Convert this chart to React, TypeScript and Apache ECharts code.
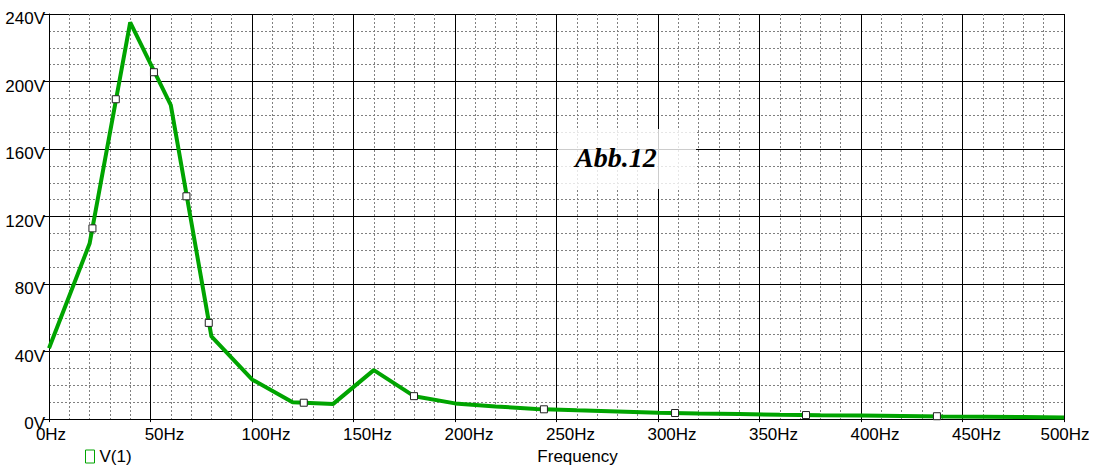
import React, { useEffect, useRef } from "react";
import * as echarts from "echarts";

const freqs = [0, 20, 40, 60, 80, 100, 120, 140, 160, 180, 200, 220, 240, 260, 280, 300, 320, 340, 360, 380, 400, 420, 440, 460, 480, 500];
const volts = [42, 104, 235, 186, 49, 23.5, 10, 9, 29, 13.5, 9.3, 7.5, 6, 5.2, 4.5, 3.8, 3.3, 3, 2.6, 2.3, 2.1, 1.9, 1.6, 1.4, 1.2, 1.0];

const markerFreqs = [21.4, 32.9, 51.7, 67.7, 78.7, 125.5, 179.8, 243.8, 308.4, 372.9, 437.4];
const markerVolts = [113, 189.5, 205.5, 132, 57, 9.7, 13.6, 5.8, 3.6, 2.4, 1.7];

const yTicks = [0, 40, 80, 120, 160, 200, 240];
const xTicks = [0, 50, 100, 150, 200, 250, 300, 350, 400, 450, 500];

const seriesName = "V(1)";
const annotation = "Abb.12";
const xTitle = "Frequency";

const FONT = "'Liberation Sans', Arial, sans-serif";
const GREEN = "#00a400";

export default function App() {
  const ref = useRef<HTMLDivElement>(null);
  useEffect(() => {
    if (!ref.current) return;
    const chart = echarts.init(ref.current, null, { renderer: "svg" });
    const lineData = freqs.map((f, i) => [f, volts[i]]);
    const markerData = markerFreqs.map((f, i) => [f, markerVolts[i]]);
    const labelBase = { fontFamily: FONT, fontSize: 17, color: "#000" };
    chart.setOption({
      animation: false,
      backgroundColor: "#fff",
      grid: { left: 49, right: 31, top: 14, bottom: 45, containLabel: false },
      legend: {
        left: 80,
        top: 443,
        itemWidth: 9,
        itemHeight: 13,
        itemGap: 5,
        textStyle: { fontFamily: FONT, fontSize: 17, color: "#000" },
        data: [
          {
            name: seriesName,
            icon: "path://M0,0H9V13H0Z",
            itemStyle: { color: "transparent", borderColor: GREEN, borderWidth: 1 },
          },
        ],
      },
      xAxis: {
        type: "value",
        min: xTicks[0],
        max: xTicks[xTicks.length - 1],
        interval: 50,
        name: xTitle,
        nameLocation: "middle",
        nameGap: 25,
        nameTextStyle: { fontFamily: FONT, fontSize: 17, color: "#000", padding: [0, 0, 0, 42] },
        axisLine: { show: true, onZero: false, lineStyle: { color: "#000", width: 1 } },
        axisTick: { show: true, length: 3, lineStyle: { color: "#000" } },
        minorTick: { show: true, splitNumber: 5, length: 0 },
        splitLine: { show: true, lineStyle: { color: "#000", width: 1 } },
        minorSplitLine: { show: true, lineStyle: { color: "#808080", width: 1, type: [2, 2] } },
        axisLabel: {
          ...labelBase,
          margin: 7,
          padding: [0, 0, 0, 28],
          formatter: (v: number) =>
            v === 0 ? "{f|" + v + "Hz}" : v === 500 ? "{l|" + v + "Hz}" : "{m|" + v + "Hz}",
          rich: {
            f: { ...labelBase, padding: [0, 24, 0, 0] },
            l: { ...labelBase, padding: [0, 26, 0, 0] },
            m: { ...labelBase },
          },
        },
      },
      yAxis: {
        type: "value",
        min: yTicks[0],
        max: yTicks[yTicks.length - 1],
        interval: 40,
        axisLine: { show: true, lineStyle: { color: "#000", width: 1 } },
        axisTick: { show: true, length: 6, lineStyle: { color: "#000" } },
        minorTick: { show: true, splitNumber: 4, length: 0 },
        splitLine: { show: true, lineStyle: { color: "#000", width: 1 } },
        minorSplitLine: { show: true, lineStyle: { color: "#808080", width: 1, type: [2, 2] } },
        axisLabel: {
          ...labelBase,
          margin: 4,
          verticalAlign: "middle",
          formatter: (v: number) => "{a|" + v + "V}",
          rich: {
            a: { ...labelBase, padding: [9, 0, 0, 0] },
          },
        },
      },
      series: [
        {
          name: seriesName,
          type: "line",
          data: lineData,
          showSymbol: false,
          symbol: "none",
          lineStyle: { color: GREEN, width: 4 },
          itemStyle: { color: GREEN },
          z: 3,
        },
        {
          name: "markers",
          type: "scatter",
          data: markerData,
          symbol: "rect",
          symbolSize: 7,
          itemStyle: { color: "#fff", borderColor: "#222", borderWidth: 1, opacity: 1 },
          z: 4,
        },
      ],
      graphic: [
        {
          type: "rect",
          shape: { x: 558, y: 129, width: 138, height: 60 },
          style: { fill: "rgba(255,255,255,0.8)" },
          z: 10,
        },
        {
          type: "text",
          x: 575,
          y: 157,
          style: {
            text: annotation,
            fontFamily: "'Liberation Serif', 'Times New Roman', serif",
            fontSize: 28,
            fontWeight: "bold",
            fontStyle: "italic",
            fill: "#000",
            verticalAlign: "middle",
          },
          z: 11,
        },
      ],
    });
    return () => chart.dispose();
  }, []);
  return (
    <div
      ref={ref}
      style={{ position: "fixed", left: 0, top: 0, width: 1095, height: 470, background: "#fff" }}
    />
  );
}
